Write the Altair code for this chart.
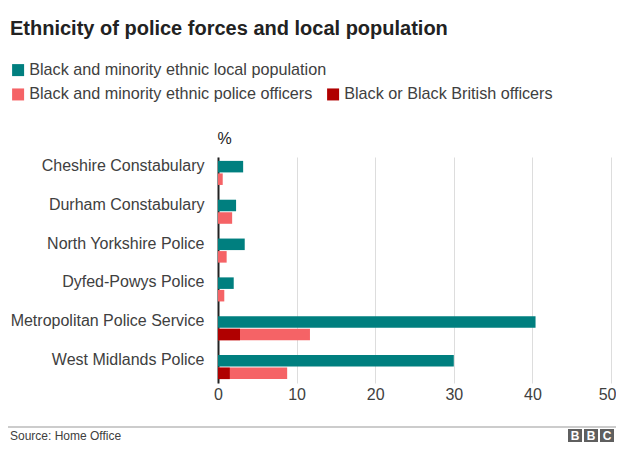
import altair as alt
import pandas as pd

forces = [
    "Cheshire Constabulary",
    "Durham Constabulary",
    "North Yorkshire Police",
    "Dyfed-Powys Police",
    "Metropolitan Police Service",
    "West Midlands Police",
]
local_population = [3.2, 2.3, 3.4, 2.0, 40.4, 30.0]
bme_officers = [0.6, 1.8, 1.1, 0.8, 11.7, 8.8]
black_officers = [0.0, 0.0, 0.0, 0.0, 2.8, 1.5]
x_ticks = [0, 10, 20, 30, 40, 50]

S_POP = "Black and minority ethnic local population"
S_BME = "Black and minority ethnic police officers"
S_BLK = "Black or Black British officers"

TEAL = "#007f7f"
PINK = "#f56366"
DARK = "#b00000"
FONT = "Liberation Sans"
TXT = "#404040"

pop_df = pd.DataFrame({"force": forces, "value": local_population,
                       "series": S_POP, "grp": "pop"})
off_df = pd.concat([
    pd.DataFrame({"force": forces, "value": bme_officers, "series": S_BME, "grp": "off"}),
    pd.DataFrame({"force": forces, "value": black_officers, "series": S_BLK, "grp": "off"}),
], ignore_index=True)

W, H = 393, 226

y_enc = alt.Y(
    "force:N", sort=forces, title=None,
    scale=alt.Scale(paddingInner=0.38, paddingOuter=0.1),
    axis=alt.Axis(ticks=False, labelPadding=14, labelOffset=-7, labelFontSize=16,
                  labelFont=FONT, labelColor=TXT, domainColor="#222222",
                  domainWidth=2, grid=False, labelLimit=300),
)
yoff = alt.YOffset("grp:N", scale=alt.Scale(domain=["pop", "off"], paddingInner=0.08,
                                            paddingOuter=0))
last_tick = f"datum.value == {x_ticks[-1]}"
x_enc = alt.X(
    "value:Q", stack=None,
    scale=alt.Scale(domain=[x_ticks[0], x_ticks[-1]], nice=False),
    axis=alt.Axis(values=x_ticks, ticks=False, domain=False,
                  gridColor="#dddddd", gridWidth=1, labelFontSize=16, labelFont=FONT,
                  labelColor=TXT, labelPadding=3, labelFlush=False,
                  labelAlign={"condition": {"test": last_tick, "value": "right"},
                              "value": "center"},
                  labelOffset={"condition": {"test": last_tick, "value": 5}, "value": 0},
                  title="%", titleFont=FONT, titleFontSize=16, titleFontWeight="normal",
                  titleColor="#222222", titleX=-1, titleY=-245, titleAlign="left",
                  titleBaseline="middle", titleAnchor="start"),
)

legend_common = dict(title=None, orient="none", symbolType="square", symbolSize=144,
                     symbolStrokeWidth=0, labelFontSize=16.2, labelFont=FONT,
                     labelColor=TXT, labelOffset=3, padding=0, labelLimit=400)

pop_layer = alt.Chart(pop_df).mark_bar().encode(
    y=y_enc, yOffset=yoff, x=x_enc,
    color=alt.Color("series:N", scale=alt.Scale(domain=[S_POP], range=[TEAL]),
                    legend=alt.Legend(legendX=-208, legendY=-95, **legend_common)),
)

off_layer = alt.Chart(off_df).mark_bar().encode(
    y=y_enc, yOffset=yoff, x=x_enc,
    color=alt.Color("series:N", scale=alt.Scale(domain=[S_BME, S_BLK], range=[PINK, DARK]),
                    legend=alt.Legend(legendX=-208, legendY=-71, direction="horizontal",
                                      columnPadding=12, **legend_common)),
)

# footer: separator line, source text and logo
footer_rule = alt.Chart(pd.DataFrame({"a": [0]})).mark_rule(color="#999999", strokeWidth=1).encode(
    x=alt.value(-220), x2=alt.value(410), y=alt.value(270)
)
source = alt.Chart(pd.DataFrame({"t": ["Source: Home Office"]})).mark_text(
    align="left", baseline="middle", fontSize=12, font=FONT, color=TXT
).encode(x=alt.value(-208), y=alt.value(279), text="t:N")

logo_letters = ["B", "B", "C"]
logo_df = pd.DataFrame({"letter": logo_letters, "i": list(range(len(logo_letters)))})
logo_box = alt.Chart(logo_df).transform_calculate(
    px="350 + datum.i * 16", px2="350 + datum.i * 16 + 14"
).mark_rect(color="#5f5f5f").encode(
    x=alt.X("px:Q", scale=None), x2="px2:Q", y=alt.value(272), y2=alt.value(285)
)
logo_txt = alt.Chart(logo_df).transform_calculate(
    px="357 + datum.i * 16"
).mark_text(color="white", fontSize=12, font=FONT, fontWeight="bold",
            align="center", baseline="middle").encode(
    x=alt.X("px:Q", scale=None), y=alt.value(278.5), text="letter:N"
)

chart = alt.layer(pop_layer, off_layer, footer_rule, source, logo_box, logo_txt).resolve_scale(
    color="independent"
).properties(
    width=W, height=H,
    autosize=alt.AutoSizeParams(type="none"),
    padding={"left": 210, "top": 149, "right": 5, "bottom": 60},
    title=alt.TitleParams("Ethnicity of police forces and local population", anchor="start",
                          frame="group", dx=-208, fontSize=20, font=FONT, fontWeight="bold",
                          color="#222222", baseline="alphabetic", offset=7),
).configure_view(stroke=None)

chart.save("out.html", embed_options={"renderer": "svg", "actions": False})
